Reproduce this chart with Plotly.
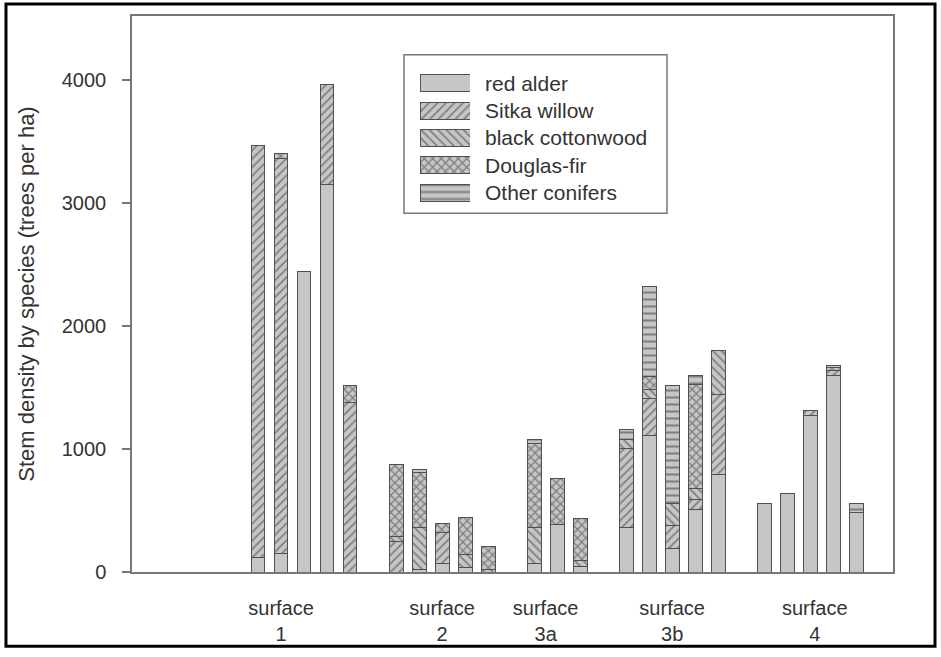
import plotly.graph_objects as go

# Bar slots (one per stand), grouped by surface
slots = [0, 1, 2, 3, 4,
         6, 7, 8, 9, 10,
         12, 13, 14,
         16, 17, 18, 19, 20,
         22, 23, 24, 25, 26]

species = ["red alder", "Sitka willow", "black cottonwood", "Douglas-fir", "Other conifers"]

red_alder = [120, 150, 2440, 3150, 0,
             0, 20, 70, 40, 0,
             70, 387, 45,
             360, 1110, 190, 510, 790,
             560, 635, 1272, 1600, 480]
sitka_willow = [3350, 3210, 0, 810, 1375,
                250, 0, 255, 0, 0,
                0, 0, 0,
                640, 300, 185, 80, 650,
                0, 0, 43, 40, 0]
black_cottonwood = [0, 0, 0, 0, 0,
                    40, 345, 0, 100, 24,
                    295, 0, 50,
                    80, 70, 180, 85, 358,
                    0, 0, 0, 0, 0]
douglas_fir = [0, 40, 0, 0, 145,
               586, 445, 68, 301, 180,
               683, 373, 343,
               0, 110, 0, 847, 0,
               0, 0, 0, 20, 0]
other_conifers = [0, 0, 0, 0, 0,
                  0, 26, 0, 0, 0,
                  30, 0, 0,
                  80, 730, 965, 75, 0,
                  0, 0, 0, 20, 79]

series = [red_alder, sitka_willow, black_cottonwood, douglas_fir, other_conifers]
patterns = ["", "/", "\\", "x", "-"]
pattern_sizes = [8, 6, 6, 6, 7]
pattern_solid = [0.3, 0.3, 0.3, 0.4, 0.3]

tick_pos = [1, 8, 12.5, 18, 24.2]
tick_text = ["surface<br>1", "surface<br>2", "surface<br>3a", "surface<br>3b", "surface<br>4"]

FILL = "#c6c6c6"
INK = "#505050"
HATCH = "#383838"

fig = go.Figure()
for name, vals, pat, ps, so in zip(species, series, patterns, pattern_sizes, pattern_solid):
    fig.add_trace(go.Bar(
        x=slots, y=vals, name=name, width=0.6, showlegend=False,
        marker=dict(color=FILL,
                    line=dict(color=INK, width=1),
                    pattern=dict(shape=pat, fgcolor=HATCH, bgcolor=FILL,
                                 size=ps, solidity=so)),
    ))

# Legend drawn on an inset axis: one wide swatch per species
legend_rows = list(range(len(species)))
for name, row, pat, ps, so in zip(species, legend_rows, patterns, pattern_sizes, pattern_solid):
    fig.add_trace(go.Bar(
        x=[1], y=[row], orientation="h", width=0.62, name=name, showlegend=False,
        xaxis="x2", yaxis="y2", hoverinfo="skip",
        marker=dict(color=FILL,
                    line=dict(color=INK, width=1),
                    pattern=dict(shape=pat, fgcolor=HATCH, bgcolor=FILL,
                                 size=ps, solidity=so)),
    ))
    fig.add_annotation(x=0.4612, xref="paper", y=row, yref="y2", text=name,
                       showarrow=False, xanchor="left", yanchor="middle",
                       font=dict(size=21, color="#333333"))

fig.update_layout(
    barmode="stack",
    width=941, height=657,
    margin=dict(l=132, r=48, t=16, b=80),
    paper_bgcolor="white", plot_bgcolor="white",
    font=dict(family="Liberation Sans, Arial, sans-serif", color="#333333"),
    showlegend=False,
    xaxis=dict(range=[-5.48, 27.6], tickvals=tick_pos, ticktext=tick_text,
               ticks="", showgrid=False, zeroline=False,
               showline=True, linecolor="#777777", linewidth=1.5, mirror=True,
               tickfont=dict(size=20, color="#333333"), ticklabelstandoff=17),
    yaxis=dict(range=[0, 4520], tickvals=[0, 1000, 2000, 3000, 4000],
               ticks="outside", ticklen=8, tickcolor="#777777", tickwidth=1.5,
               showgrid=False, zeroline=False,
               showline=True, linecolor="#777777", linewidth=1.5, mirror=True,
               tickfont=dict(size=20, color="#333333"), ticklabelstandoff=12,
               title=dict(text="Stem density by species (trees per ha)",
                          font=dict(size=22, color="#333333"), standoff=21)),
    xaxis2=dict(domain=[0.3785, 0.4442], range=[0, 1], visible=False, fixedrange=True),
    yaxis2=dict(domain=[0.6578, 0.9037], range=[4.5, -0.5], visible=False, fixedrange=True,
                anchor="x2"),
)

# legend box
fig.add_shape(type="rect", xref="paper", yref="paper",
              x0=0.3574, x1=0.7030, y0=0.6453, y1=0.9305,
              line=dict(color="#777777", width=1.5), layer="below")

# outer frame of the figure
fig.add_shape(type="rect", xref="paper", yref="paper",
              x0=-0.1656, x1=1.0552, y0=-0.1337, y1=1.0214,
              line=dict(color="black", width=3), layer="above")

fig.write_html("out.html", config={"displayModeBar": False},
               post_script="document.body.style.margin='0';")
